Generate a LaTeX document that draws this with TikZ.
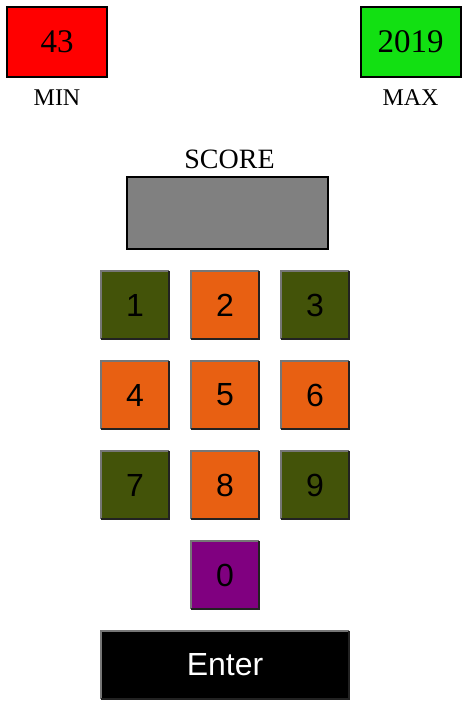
\documentclass[tikz,border=0pt]{standalone}
\usepackage{fontspec}
\setmainfont{Liberation Serif}
\newfontfamily\btnfont{Liberation Sans}
\definecolor{minred}{RGB}{255,0,0}
\definecolor{maxgreen}{RGB}{18,224,18}
\definecolor{keyolive}{RGB}{67,83,9}
\definecolor{keyorange}{RGB}{232,96,18}
\definecolor{keypurple}{RGB}{128,0,128}
\definecolor{scoregray}{RGB}{128,128,128}
\definecolor{edgelight}{RGB}{118,118,118}
\definecolor{edgedark}{RGB}{34,34,34}
\tikzset{
  valbox/.style={draw=black, line width=2pt, minimum width=100pt, minimum height=70pt,
    inner sep=0pt, outer sep=0pt, font=\fontsize{33}{36}\selectfont, text=black},
  lbl/.style={anchor=base, inner sep=0pt, font=\fontsize{24}{28}\selectfont, text=black},
  key/.style={minimum width=68pt, minimum height=68pt, inner sep=0pt, outer sep=0pt,
    font=\btnfont\fontsize{32}{36}\selectfont, text=black},
  olivekey/.style={key, fill=keyolive},
  orangekey/.style={key, fill=keyorange},
  purplekey/.style={key, fill=keypurple},
}
\begin{document}
\begin{tikzpicture}[x=1pt, y=-1pt]
\useasboundingbox (0,0) rectangle (470,722);
% min / max
\node[valbox, fill=minred] (minbox) at (57,42) {43};
\node[valbox, fill=maxgreen] (maxbox) at (410.5,42) {2019};
\node[lbl] (minlbl) at (57,106) {MIN};
\node[lbl] (maxlbl) at (410.5,106) {MAX};
% score
\node[lbl, font=\fontsize{28}{32}\selectfont] (scorelbl) at (229.5,169) {SCORE};
\node[draw=black, line width=2pt, fill=scoregray, minimum width=201pt, minimum height=71pt,
  inner sep=0pt, outer sep=0pt] (scorebox) at (227,213) {};
% keypad
\node[olivekey]  (k1) at (135,305) {1};
\node[orangekey] (k2) at (225,305) {2};
\node[olivekey]  (k3) at (315,305) {3};
\node[orangekey] (k4) at (135,395) {4};
\node[orangekey] (k5) at (225,395) {5};
\node[orangekey] (k6) at (315,395) {6};
\node[olivekey]  (k7) at (135,485) {7};
\node[orangekey] (k8) at (225,485) {8};
\node[olivekey]  (k9) at (315,485) {9};
\node[purplekey] (k0) at (225,575) {0};
\node[key, fill=black, text=white, minimum width=248pt] (enter) at (225,665) {Enter};
\foreach \n in {k1,k2,k3,k4,k5,k6,k7,k8,k9,k0,enter}{
  \draw[edgelight, line width=2pt] (\n.south west) -- (\n.north west) -- (\n.north east);
  \draw[edgedark, line width=2pt] (\n.north east) -- (\n.south east) -- (\n.south west);
}
\end{tikzpicture}
\end{document}
